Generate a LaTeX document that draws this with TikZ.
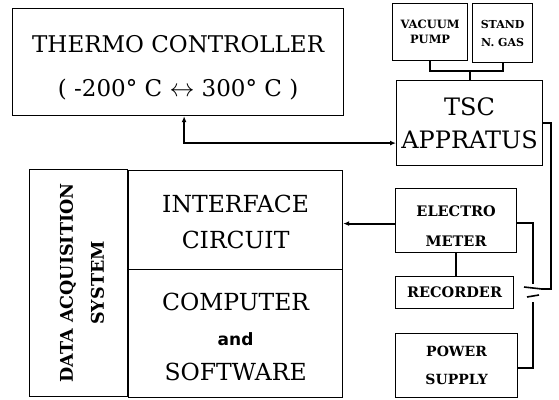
\documentclass[tikz,border=0pt]{standalone}
\usepackage{fontspec}
\setmainfont{DejaVu Serif}
\newfontfamily\andfont{DejaVu Sans}
\usepackage{tikz}
\usetikzlibrary{arrows.meta,positioning,calc}

\begin{document}
\begin{tikzpicture}[x=1pt,y=-1pt,>={Latex[length=6pt,width=5pt]},
  box/.style={draw,line width=1.2pt,anchor=north west,inner sep=0pt,align=center},
  big/.style={font=\fontsize{23}{40}\selectfont},
  small/.style={font=\bfseries\fontsize{14}{28}\selectfont},
  wire/.style={line width=2.2pt}]
\useasboundingbox (0,0) rectangle (559,399);
% left blocks
\node[box,big,minimum width=331pt,minimum height=107pt] (thermo) at (12,8)
  {\rule{0pt}{28pt}THERMO CONTROLLER\\[4pt]( -200° C $\leftrightarrow$ 300° C )};
\node[box,minimum width=227pt,minimum height=98pt,rotate=90,anchor=south west,
  font=\bfseries\fontsize{17.5}{31}\selectfont] (das) at (128,397)
  {\rule{0pt}{20pt}DATA ACQUISITION\\SYSTEM};
\node[box,minimum width=214pt,minimum height=99pt,font=\fontsize{23.5}{36}\selectfont] (iface) at (128,170)
  {\rule{0pt}{22pt}INTERFACE\\CIRCUIT};
\node[box,minimum width=214pt,minimum height=128pt,font=\fontsize{23.5}{35}\selectfont] (comp) at (128,269)
  {\rule{0pt}{24pt}COMPUTER\\{\andfont\bfseries\fontsize{17}{17}\selectfont and}\\SOFTWARE};
% right blocks
\node[box,minimum width=75pt,minimum height=57pt,font=\bfseries\fontsize{11.5}{15}\selectfont] (vac) at (392,3)
  {VACUUM\\PUMP};
\node[box,minimum width=60pt,minimum height=59pt,font=\bfseries\fontsize{11}{18}\selectfont] (stand) at (472,3)
  {STAND\\N. GAS};
\node[box,minimum width=146pt,minimum height=85pt,font=\fontsize{24}{33}\selectfont] (tsc) at (396,80)
  {TSC\\APPRATUS};
\node[box,small,minimum width=121pt,minimum height=64pt,font=\bfseries\fontsize{14.5}{30}\selectfont] (elec) at (395,188)
  {\rule{0pt}{22pt}ELECTRO\\METER};
\node[box,small,minimum width=118pt,minimum height=32pt,font=\bfseries\fontsize{14.5}{16}\selectfont] (rec) at (395,276)
  {RECORDER};
\node[box,small,minimum width=122pt,minimum height=64pt] (power) at (395,333)
  {POWER\\SUPPLY};
% battery
\coordinate (batU) at (533,284);
\coordinate (batL) at (533,302);
\coordinate (batR) at (541,289);
\draw[line width=1.6pt] (524,287) -- (542,289);
\draw[line width=1.6pt] (527,297) -- (539,295);
% connectors
\draw[wire] (vac.south) -- ++(0,10) -| (stand.south);
\draw[wire] (tsc.north) -- ++(0,-10);
\draw[wire,<->] ([xshift=6pt]thermo.south) |- ([yshift=-20pt]tsc.west);
\draw[wire,->] ([yshift=-3pt]elec.west) -- ([yshift=-3pt]elec.west -| iface.east);
\draw[wire] (elec.south) -- (elec.south |- rec.north);
\draw[wire] ([yshift=-2pt]elec.east) -| (batU);
\draw[wire] ([yshift=-2pt]power.east) -| (batL);
\draw[wire] (tsc.east) -- ++(8,0) |- (batR);
\end{tikzpicture}
\end{document}
